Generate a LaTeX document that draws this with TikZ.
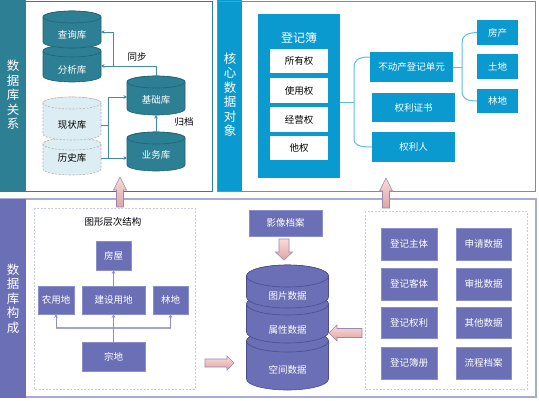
\documentclass[tikz,border=0pt]{standalone}
\usepackage{fontspec}
\setmainfont{Noto Sans CJK SC}
\usetikzlibrary{arrows.meta}
\definecolor{teal1}{HTML}{2D7F94}
\definecolor{tealdk}{HTML}{1F6376}
\definecolor{tealln}{HTML}{3E8FA4}
\definecolor{blue1}{HTML}{0A9AD0}
\definecolor{blueln}{HTML}{5BBDE6}
\definecolor{purp}{HTML}{6B6FB5}
\definecolor{purpdk}{HTML}{4A4E90}
\definecolor{purpln}{HTML}{8B8FC9}
\definecolor{purpbd}{HTML}{A9ABD6}
\definecolor{dashc}{HTML}{C8C9E2}
\definecolor{ltcyl}{HTML}{DCEEF3}
\definecolor{pinkA}{HTML}{F8DCD7}
\definecolor{pinkB}{HTML}{DFA4A4}
\definecolor{pinkbd}{HTML}{9E86B2}
\newcommand\mycyl[9]{%
 \path[#2] (#3-#4,#6) -- (#3-#4,#7) arc[start angle=180,end angle=0,x radius=#4,y radius=#5] -- (#3+#4,#6) arc[start angle=0,end angle=-180,x radius=#4,y radius=#5] -- cycle;
 \path[#2] (#3,#6) ellipse[x radius=#4,y radius=#5];
 \node[cyltext] (#1) at (#3,#8) {#9};
 \coordinate (#1-top) at (#3,#6-#5);
 \coordinate (#1-bot) at (#3,#7+#5);
 \coordinate (#1-w) at (#3-#4,#8);
 \coordinate (#1-e) at (#3+#4,#8);
}
% block arrow: x, y (tail), angle, length, shaft hw, head hw, head length
\newcommand\barrow[7]{%
 \begin{scope}[shift={(#1,#2)},rotate=#3]
 \path[top color=pinkA,bottom color=pinkB,draw=pinkbd,line width=0.6pt]
   (0,-#5) -- (#4-#7,-#5) -- (#4-#7,-#6) -- (#4,0) -- (#4-#7,#6) -- (#4-#7,#5) -- (0,#5) -- cycle;
 \end{scope}}
\newcommand\ft{\fontsize{9.5}{11}\selectfont}
\begin{document}
\begin{tikzpicture}[x=1pt,y=-1pt,
  cyltext/.style={text=white,font=\ft,inner sep=0pt},
  tcyl/.style={fill=teal1,draw=tealdk,line width=0.6pt},
  lcyl/.style={fill=ltcyl,draw=gray!60,line width=0.6pt,dash pattern=on 2pt off 1.5pt},
  pcyl/.style={fill=purp,draw=purpdk,line width=0.6pt},
  vtext/.style={text=white,align=center,font=\fontsize{12.5}{14.5}\selectfont,inner sep=0pt},
  lbl/.style={text=black,font=\ft,inner sep=0pt},
  tconn/.style={draw=tealln,line width=1pt},
  bconn/.style={draw=blueln,line width=1pt},
  pconn/.style={draw=purpln,line width=1pt},
  tip/.style={-{Stealth[length=3.5pt,width=3.5pt]}},
  bbox/.style={fill=blue1,text=white,font=\ft,inner sep=0pt},
  wbox/.style={fill=white,text=black,font=\ft,inner sep=0pt},
  pbox/.style={fill=purp,draw=purpln,line width=0.5pt,text=white,font=\ft,inner sep=0pt},
  dbox/.style={draw=dashc,line width=0.6pt,dash pattern=on 2pt off 1.5pt}
]
\useasboundingbox (0,0) rectangle (539,400);
\fill[white] (0,0) rectangle (539,400);

% ---------- top-left panel ----------
\fill[teal1] (0,0) rectangle (26,191);
\draw[teal1,line width=1pt] (0.5,1.5) rectangle (212,191);
\node[vtext] (t1) at (13,95) {数\\据\\库\\关\\系};

\mycyl{fenxi}{tcyl}{72}{29}{6}{51}{76}{70}{分析库}
\mycyl{chaxun}{tcyl}{72}{29}{6}{17}{42}{35}{查询库}
\mycyl{lishi}{lcyl}{72}{29}{6}{144}{169}{158}{\color{black}历史库}
\mycyl{xianzhuang}{lcyl}{72}{29}{6}{103}{134}{125}{\color{black}现状库}
\mycyl{jichu}{tcyl}{156}{29}{6}{82}{109}{100}{基础库}
\mycyl{yewu}{tcyl}{156}{29}{6}{138}{165}{155}{业务库}

\coordinate (sj) at (113,66);
\draw[tconn] (jichu-top) |- (sj);
\draw[tconn,tip] (sj) -- (sj -| fenxi-e);
\draw[tconn,tip] (sj) |- ([yshift=3pt]chaxun-e);
\node[lbl] (tb) at (137,57) {同步};

\coordinate (lvt) at (108,97);
\coordinate (lvb) at (108,158);
\draw[tconn] (lvt) -- (lvb);
\draw[tconn] (xianzhuang-e) -- (xianzhuang-e -| lvt);
\draw[tconn,tip] (lvt) -- (lvt -| jichu-w);
\draw[tconn,tip] (lishi-e) -- (lishi-e -| yewu-w);
\draw[tconn,tip] (yewu-top) -- (jichu-bot);
\node[lbl] (gd) at (184,122) {归档};

% ---------- top-right panel ----------
\fill[blue1] (217,0) rectangle (242,191);
\draw[blue1!85,line width=1pt] (217,1.5) rectangle (535,191);
\node[vtext] (t2) at (230,94.5) {核\\心\\数\\据\\对\\象};

\node[bbox,minimum width=82pt,minimum height=164pt] (djb) at (299,96) {};
\node[text=white,font=\fontsize{12}{14}\selectfont,inner sep=0pt] (djbt) at (299,38) {登记簿};
\node[wbox,minimum width=58pt,minimum height=24pt] (syq) at (299,61) {所有权};
\node[wbox,minimum width=58pt,minimum height=25pt] (sy2) at (299,90.5) {使用权};
\node[wbox,minimum width=58pt,minimum height=25pt] (jyq) at (299,119.5) {经营权};
\node[wbox,minimum width=58pt,minimum height=24pt] (tq) at (299,148) {他权};

\node[bbox,minimum width=83pt,minimum height=30pt] (bdc) at (411.5,67) {不动产登记单元};
\node[bbox,minimum width=83pt,minimum height=29pt] (qlzs) at (413.5,107.5) {权利证书};
\node[bbox,minimum width=83pt,minimum height=30pt] (qlr) at (413.5,147) {权利人};

\node[bbox,minimum width=41pt,minimum height=25pt] (fc) at (497.5,32.5) {房产};
\node[bbox,minimum width=41pt,minimum height=25pt] (td) at (497.5,66.5) {土地};
\node[bbox,minimum width=41pt,minimum height=24pt] (ld1) at (497.5,101) {林地};

\coordinate (b1) at (354,102);
\draw[bconn] ([yshift=-6pt]djb.east) -- (b1);
\draw[bconn] ([yshift=10pt]bdc.west) .. controls (358,57) and (354,60) .. (354,68)
   -- (354,138) .. controls (354,145) and (358,147) .. (qlr.west);
\coordinate (b2) at (462,67);
\draw[bconn] (bdc.east) -- (b2);
\draw[bconn] (fc.west) .. controls (466,33) and (462,36) .. (462,43)
   -- (462,91) .. controls (462,98) and (466,101) .. (ld1.west);

% ---------- bottom panel ----------
\draw[purpbd,line width=1.2pt] (0.6,199) rectangle (536,397);
\fill[purp] (0,199) rectangle (26,398);
\node[vtext] (t3) at (13,298.5) {数\\据\\库\\构\\成};

\draw[dbox] (34,208) rectangle (195,389);
\node[lbl] (txjg) at (113,222) {图形层次结构};
\node[pbox,minimum width=35pt,minimum height=29pt] (fw) at (113.5,255.5) {房屋};
\node[pbox,minimum width=36pt,minimum height=28pt] (nyd) at (56,300) {农用地};
\node[pbox,minimum width=63pt,minimum height=28pt] (jsyd) at (113.5,300) {建设用地};
\node[pbox,minimum width=35pt,minimum height=28pt] (ld2) at (170.5,300) {林地};
\node[pbox,minimum width=63pt,minimum height=29pt] (zd) at (113.5,356.5) {宗地};

\coordinate (hj) at (113.5,328);
\draw[pconn,line width=1.6pt,draw=purpln!80] (nyd.south |- hj) -- (ld2.south |- hj);
\draw[pconn,tip] (nyd.south |- hj) -- (nyd.south);
\draw[pconn,tip] (ld2.south |- hj) -- (ld2.south);
\draw[pconn,tip] (zd.north) -- (jsyd.south);
\draw[pconn,tip] (jsyd.north) -- (fw.south);

\node[pbox,minimum width=73pt,minimum height=26pt] (yxda) at (285.5,223) {影像档案};

\mycyl{kj}{pcyl}{287.5}{41}{11}{341}{379}{370}{空间数据}
\mycyl{sx}{pcyl}{287.5}{41}{11}{304}{332}{330}{属性数据}
\mycyl{tp}{pcyl}{287.5}{41}{11}{276}{297}{296}{图片数据}

\draw[dbox] (365,211) rectangle (527,389);
\node[pbox,minimum width=56pt,minimum height=32pt] (r1a) at (409,244) {登记主体};
\node[pbox,minimum width=55pt,minimum height=32pt] (r1b) at (483.5,244) {申请数据};
\node[pbox,minimum width=56pt,minimum height=32pt] (r2a) at (409,284) {登记客体};
\node[pbox,minimum width=55pt,minimum height=32pt] (r2b) at (483.5,284) {审批数据};
\node[pbox,minimum width=56pt,minimum height=31pt] (r3a) at (409,322.5) {登记权利};
\node[pbox,minimum width=55pt,minimum height=31pt] (r3b) at (483.5,322.5) {其他数据};
\node[pbox,minimum width=56pt,minimum height=32pt] (r4a) at (409,363) {登记簿册};
\node[pbox,minimum width=55pt,minimum height=32pt] (r4b) at (483.5,363) {流程档案};

% ---------- block arrows ----------
\barrow{120}{207}{90}{30}{3.5}{6.5}{13}
\barrow{386}{208}{90}{30}{3.5}{6.5}{13}
\barrow{284}{239}{-90}{21}{5}{8.5}{8}
\barrow{205}{363}{0}{29}{4}{7}{7}
\barrow{362}{333}{180}{33}{4.5}{8}{8}
\end{tikzpicture}
\end{document}
